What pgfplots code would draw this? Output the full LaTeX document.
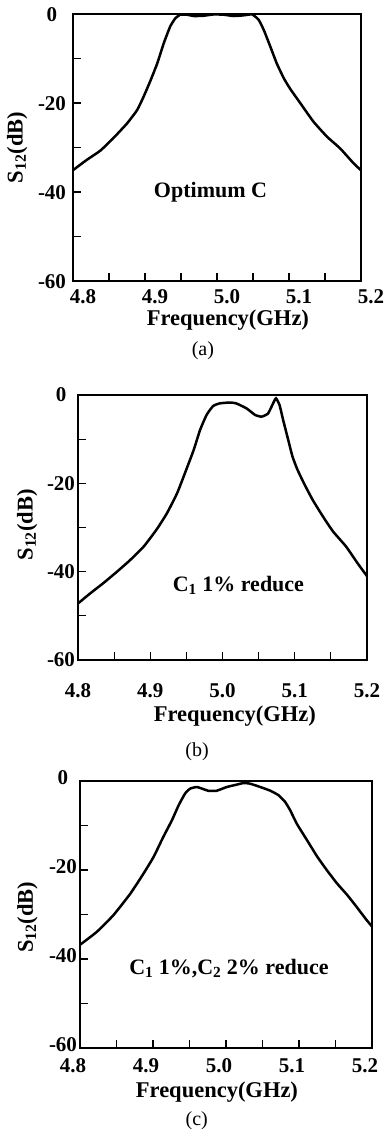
\documentclass[border=0pt]{standalone}
\usepackage{fontspec}
\setmainfont{Liberation Serif}
\usepackage{pgfplots}
\pgfplotsset{compat=1.18}
\newcommand{\labfont}{\fontsize{22.5}{26}\selectfont\bfseries}
\newcommand{\annfont}{\fontsize{22}{26}\selectfont\bfseries}
\newcommand{\capfont}{\fontsize{20}{22}\selectfont}
\pgfplotsset{
  myax/.style={scale only axis, xmin=4.8, xmax=5.2, ymin=-60, ymax=0,
   clip mode=individual,
   xtick={4.8,4.85,4.9,4.95,5.0,5.05,5.1,5.15,5.2},
   xticklabels={4.8,,4.9,,5.0,,5.1,,5.2},
   ytick={-60,-50,-40,-30,-20,-10,0},
   yticklabels={-60,,-40,,-20,,0},
   tick align=inside, xtick pos=left, ytick pos=left,
   major tick length=8pt,
   axis line style={line width=1.1pt},
   tick style={line width=1.1pt, black},
   ticklabel style={font=\fontsize{21}{23}\selectfont\bfseries, inner sep=0.5pt},
   xlabel={Frequency(GHz)}, ylabel={S\textsubscript{12}(dB)},
   /pgf/number format/assume math mode=true,
  },
  curve/.style={black, line width=2.5pt, smooth, tension=0.3, no marks},
}
\begin{document}
\begin{tikzpicture}
% ---------- (a) ----------
\begin{axis}[myax, at={(73pt,-281pt)}, anchor=south west,
  width=288pt, height=267pt,
  xticklabel style={anchor=center, yshift=-16pt, xshift=10pt},
  yticklabel style={anchor=center, xshift=-21pt, yshift=-1pt},
  every axis x label/.style={at={(axis description cs:0.538,-0.146)}, anchor=center, font=\labfont},
  every axis y label/.style={at={(axis description cs:-0.194,0.5)}, rotate=90, anchor=center, font=\labfont},
]
\addplot[curve] coordinates {
(4.800,-35.1) (4.819,-32.8) (4.838,-30.7) (4.856,-27.9) (4.875,-24.6)
(4.889,-21.6) (4.898,-18.6) (4.907,-15.2) (4.917,-11.1) (4.926,-6.6)
(4.935,-2.8) (4.942,-1.0) (4.949,-0.15) (4.958,-0.15) (4.968,-0.45)
(4.981,-0.4) (4.995,-0.1) (5.009,-0.15) (5.023,-0.45) (5.037,-0.3)
(5.049,-0.1) (5.058,-1.35) (5.065,-3.6) (5.074,-7.3) (5.083,-11.1)
(5.093,-14.5) (5.102,-16.9) (5.116,-20.1) (5.134,-24.2) (5.153,-27.6)
(5.171,-30.2) (5.190,-33.6) (5.200,-35.1)
};
\node[font=\annfont] at (axis cs:4.991,-40.1) {Optimum C};
\node[font=\capfont] at (axis description cs:0.451,-0.262) {(a)};
\end{axis}
% ---------- (b) ----------
\begin{axis}[myax, at={(78pt,-660pt)}, anchor=south west,
  width=289pt, height=265pt,
  xticklabel style={anchor=center, yshift=-31pt},
  yticklabel style={anchor=center, xshift=-17pt},
  every axis x label/.style={at={(axis description cs:0.543,-0.211)}, anchor=center, font=\labfont},
  every axis y label/.style={at={(axis description cs:-0.176,0.51)}, rotate=90, anchor=center, font=\labfont},
]
\addplot[curve] coordinates {
(4.800,-47.2) (4.817,-44.9) (4.835,-42.6) (4.854,-40.0) (4.872,-37.4)
(4.891,-34.3) (4.909,-30.4) (4.923,-26.8) (4.937,-22.3) (4.948,-17.7)
(4.960,-12.5) (4.969,-7.9) (4.978,-4.5) (4.987,-2.5) (4.996,-1.9)
(5.010,-1.7) (5.019,-1.9) (5.033,-3.0) (5.045,-4.5) (5.054,-4.9)
(5.063,-4.2) (5.070,-1.9) (5.074,-0.75) (5.079,-2.3) (5.084,-5.7)
(5.091,-10.2) (5.097,-14.0) (5.104,-17.0) (5.114,-20.4) (5.125,-23.8)
(5.139,-27.5) (5.153,-30.9) (5.171,-34.3) (5.187,-38.1) (5.200,-41.0)
};
\node[font=\annfont] at (axis cs:5.022,-43.0) {C\textsubscript{1} 1\% reduce};
\node[font=\capfont] at (axis description cs:0.412,-0.347) {(b)};
\end{axis}
% ---------- (c) ----------
\begin{axis}[myax, at={(80pt,-1048pt)}, anchor=south west,
  width=292pt, height=267pt,
  xticklabel style={anchor=center, yshift=-18pt, xshift=-7pt},
  yticklabel style={anchor=center, xshift=-17pt, yshift=3pt},
  every axis x label/.style={at={(axis description cs:0.469,-0.165)}, anchor=center, font=\labfont},
  every axis y label/.style={at={(axis description cs:-0.18,0.49)}, rotate=90, anchor=center, font=\labfont},
]
\addplot[curve] coordinates {
(4.800,-36.8) (4.823,-33.9) (4.846,-30.1) (4.869,-25.3) (4.887,-20.8)
(4.901,-17.0) (4.914,-12.6) (4.926,-8.8) (4.935,-5.5) (4.944,-2.8)
(4.951,-1.7) (4.960,-1.35) (4.967,-1.7) (4.976,-2.2) (4.987,-2.2)
(5.001,-1.35) (5.015,-0.8) (5.024,-0.45) (5.033,-0.6) (5.047,-1.35)
(5.061,-2.2) (5.072,-3.2) (5.081,-4.7) (5.088,-6.6) (5.097,-9.6)
(5.111,-13.3) (5.125,-17.0) (5.138,-20.0) (5.152,-23.0) (5.166,-25.6)
(5.179,-28.3) (5.191,-30.9) (5.200,-32.7)
};
\node[font=\annfont] at (axis cs:5.004,-42.1) {C\textsubscript{1} 1\%,C\textsubscript{2} 2\% reduce};
\node[font=\capfont] at (axis description cs:0.40,-0.273) {(c)};
\end{axis}
\pgfresetboundingbox
\path (0pt,0pt) rectangle (388pt,-1137pt);
\end{tikzpicture}
\end{document}
